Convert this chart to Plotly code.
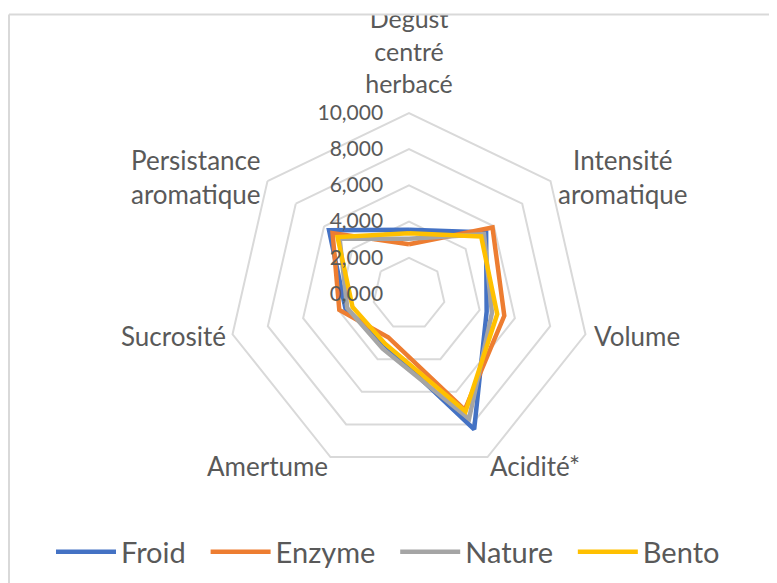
import plotly.graph_objects as go

categories = ["Degust centré herbacé", "Intensité aromatique", "Volume", "Acidité*",
              "Amertume", "Sucrosité", "Persistance aromatique"]
category_labels = ["Degust<br>centré<br>herbacé", "Intensité<br>aromatique", "Volume", "Acidité*",
                   "Amertume", "Sucrosité", "Persistance<br>aromatique"]
froid = [3.55, 5.45, 4.4, 8.3, 3.1, 3.6, 5.65]
enzyme = [2.75, 5.9, 5.4, 7.1, 2.65, 3.95, 5.4]
nature = [3.05, 5.3, 4.7, 7.65, 3.35, 3.5, 4.9]
bento = [3.35, 5.1, 5.0, 7.2, 3.05, 3.2, 5.05]
series_names = ["Froid", "Enzyme", "Nature", "Bento"]
series_colors = ["#4472C4", "#ED7D31", "#A5A5A5", "#FFC000"]
radial_ticks = [0, 2, 4, 6, 8, 10]
radial_labels = ["0,000", "2,000", "4,000", "6,000", "8,000", "10,000"]

FONT = "Lato"
TXT = "#595959"
GRID = "#D9D9D9"
W, H = 777, 583
OFF = 8                      # page offset of the plot div
cx, cy, R = 409 - OFF, 294 - OFF, 181
LEGEND_PAD = "\u00a0" * 2    # extra spacing between legend entries

fig = go.Figure()
for name, vals, col in zip(series_names, [froid, enzyme, nature, bento], series_colors):
    fig.add_trace(go.Scatterpolar(
        r=vals + vals[:1], theta=categories + categories[:1],
        mode="lines", name=name + LEGEND_PAD,
        line=dict(color=col, width=4.5),
    ))

# top category label drawn by the axis (so the chart border clips it); others as annotations
angular_ticktext = [category_labels[0]] + [""] * (len(categories) - 1)

fig.update_layout(
    width=W, height=H,
    margin=dict(l=0, r=0, t=0, b=0),
    paper_bgcolor="white", plot_bgcolor="white",
    font=dict(family=FONT, color=TXT),
    polar=dict(
        domain=dict(x=[(cx - R) / W, (cx + R) / W], y=[(H - cy - R) / H, (H - cy + R) / H]),
        bgcolor="white",
        gridshape="linear",
        angularaxis=dict(
            rotation=90, direction="clockwise",
            showgrid=False, showline=True, linecolor=GRID, linewidth=2,
            ticks="outside", ticklen=9, tickcolor="rgba(0,0,0,0)",
            tickmode="array", tickvals=categories, ticktext=angular_ticktext,
            tickfont=dict(size=25, color=TXT, family=FONT),
        ),
        radialaxis=dict(
            range=[0, 10], angle=90, side="counterclockwise",
            tickvals=radial_ticks, ticktext=radial_labels,
            showline=False, ticks="outside", ticklen=18, tickcolor="rgba(0,0,0,0)",
            tickangle=90,
            gridcolor=GRID, gridwidth=2,
            tickfont=dict(size=21, color=TXT, family=FONT),
        ),
    ),
    legend=dict(
        orientation="h", x=(51 - OFF) / W, xanchor="left", y=(H - 552 + OFF) / H, yanchor="middle",
        font=dict(size=29, color=TXT, family=FONT),
        itemwidth=60,
    ),
    showlegend=True,
)

# outer category labels (page positions of the reference, shifted by the div offset)
label_pos = {
    1: (623, 177),
    2: (637, 336),
    3: (535, 466),
    4: (267, 466),
    5: (173, 336),
    6: (196, 177),
}
for i, (px, py) in label_pos.items():
    fig.add_annotation(x=(px - OFF) / W, y=(H - py + OFF) / H, xref="paper", yref="paper",
                       text=category_labels[i], showarrow=False, align="center",
                       xanchor="center", yanchor="middle",
                       font=dict(size=26, color=TXT, family=FONT))

# chart border (top and left) and clip above it
top_y = 14.5 - OFF
fig.add_shape(type="rect", xref="paper", yref="paper", x0=-0.01, x1=1.01,
              y0=(H - top_y) / H, y1=1.02, fillcolor="white", line=dict(width=0), layer="above")
fig.add_shape(type="line", xref="paper", yref="paper", x0=1 / W, x1=1.01,
              y0=(H - top_y) / H, y1=(H - top_y) / H, line=dict(color=GRID, width=2), layer="above")
fig.add_shape(type="line", xref="paper", yref="paper", x0=1 / W, x1=1 / W,
              y0=-0.01, y1=(H - top_y) / H, line=dict(color=GRID, width=2), layer="above")

fig.write_html("out.html")
